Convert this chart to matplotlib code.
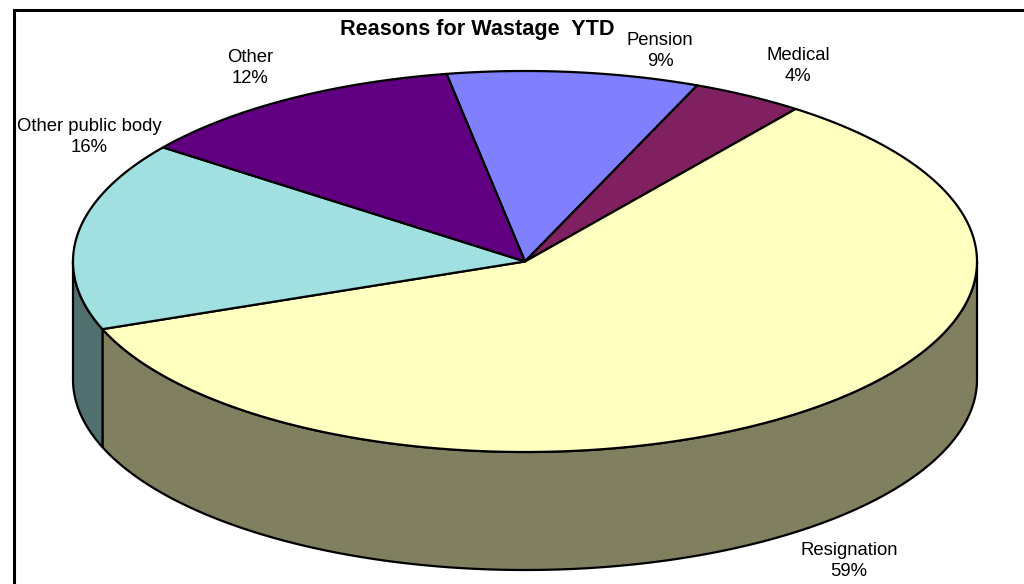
import numpy as np
import matplotlib
matplotlib.use("Agg")
import matplotlib.pyplot as plt
from matplotlib.patches import Polygon

plt.rcParams['font.family'] = ['Liberation Sans', 'DejaVu Sans']

# Wastage reasons, year to date (percent of leavers)
categories = ["Pension", "Medical", "Resignation", "Other public body", "Other"]
shares = [9, 4, 59, 16, 12]

top_colors = ["#8080FF", "#802060", "#FFFFC0", "#A0E0E0", "#600080"]
side_colors = ["#404080", "#401030", "#808060", "#507070", "#300040"]

# label anchors in pixel space (x, y)
label_pos = {
    "Pension": (660, 51),
    "Medical": (798, 66),
    "Resignation": (849, 561),
    "Other public body": (89, 137),
    "Other": (250, 68),
}

W, H = 1024, 584
fig = plt.figure(figsize=(W / 100, H / 100), dpi=100)
ax = fig.add_axes([0, 0, 1, 1])
ax.set_xlim(0, W)
ax.set_ylim(H, 0)
ax.axis("off")

# projected pie geometry (pixels)
cx, cy = 525.0, 261.5
rx, ry = 452.0, 190.5
depth = 118.0
start = 100.0  # degrees, slices run clockwise
lw = 1.6


def rim(t_deg, dz=0.0):
    t = np.radians(t_deg)
    return np.column_stack([cx + rx * np.cos(t), cy - ry * np.sin(t) + dz])


# slice angle ranges (clockwise from start)
bounds = []
a = start
for s in shares:
    b = a - s * 3.6
    bounds.append((b, a))
    a = b

# side walls: only the front half (angles 180..360) is visible
for (b, a), col in zip(bounds, side_colors):
    for k in (-1, 0, 1):
        lo = max(b + 360 * k, 180.0)
        hi = min(a + 360 * k, 360.0)
        if hi - lo <= 0:
            continue
        t = np.linspace(lo, hi, 200)
        top = rim(t)
        bot = rim(t, depth)[::-1]
        ax.add_patch(Polygon(np.vstack([top, bot]), closed=True,
                             facecolor=col, edgecolor="black", lw=lw,
                             joinstyle="round", zorder=2))

# top faces
for (b, a), col in zip(bounds, top_colors):
    t = np.linspace(b, a, 300)
    pts = np.vstack([[cx, cy], rim(t)])
    ax.add_patch(Polygon(pts, closed=True, facecolor=col, edgecolor="black",
                         lw=lw, joinstyle="round", zorder=3))

# category labels with percentages
for name, s in zip(categories, shares):
    x, y = label_pos[name]
    ax.text(x, y, f"{name}\n{s}%", ha="center", va="center", fontsize=13.3,
            linespacing=1.3, color="black", zorder=5)

ax.text(477, 29, "Reasons for Wastage  YTD", ha="center", va="center",
        fontsize=15.6, fontweight="bold", color="black", zorder=5)

# chart frame (left and top edges)
ax.plot([14, 14, W + 5], [H + 5, 9.5, 9.5], color="black", lw=2.2,
        solid_joinstyle="miter", zorder=6, clip_on=False)

fig.savefig("out.png", dpi=100)
